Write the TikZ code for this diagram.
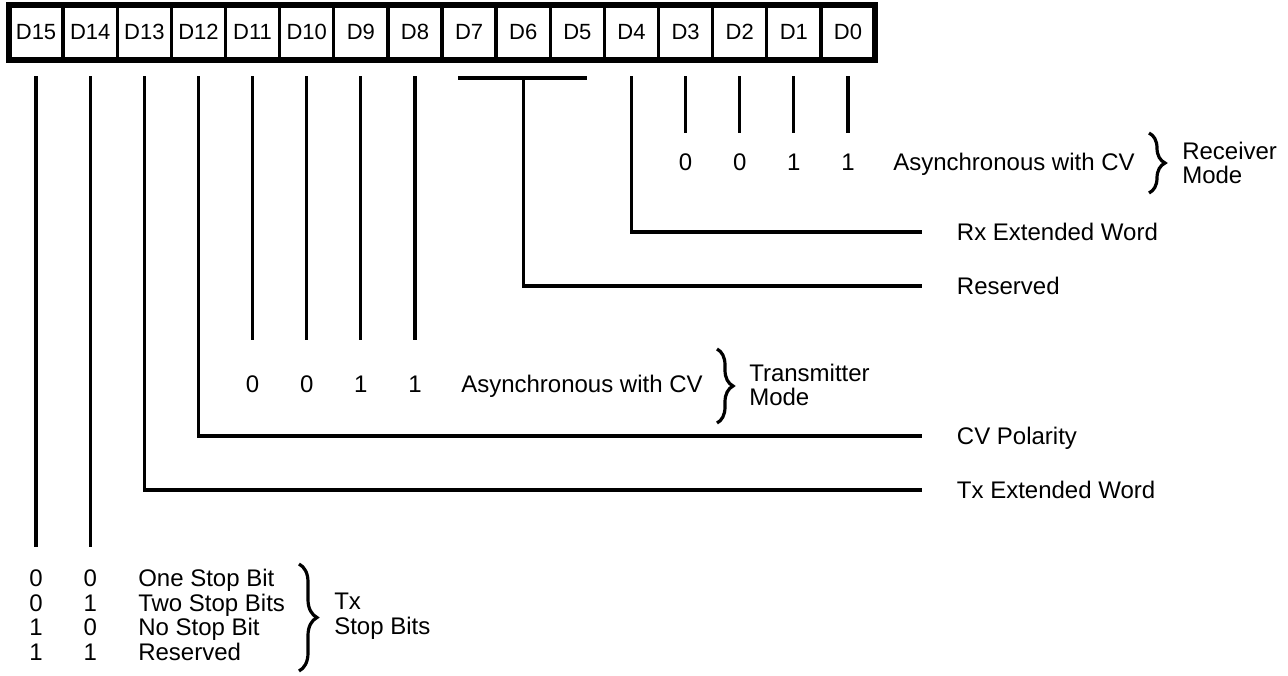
\documentclass[tikz,border=0pt]{standalone}
\usepackage{fontspec}
\setmainfont{Liberation Sans}
\usetikzlibrary{positioning,decorations.pathreplacing}
\tikzset{
  cell/.style={draw,line width=2.6pt,minimum width=40.6pt,minimum height=40.9pt,
    inner sep=0pt,outer sep=0pt,font=\fontsize{16.5}{18}\selectfont},
  wire/.style={line width=2.5pt},
  bit/.style={inner sep=0pt,text height=12.9pt,text depth=0pt,font=\fontsize{18}{20}\selectfont},
  lbl/.style={bit,anchor=west},
  lbltwo/.style={inner sep=0pt,anchor=west,align=left,font=\fontsize{18}{18.6}\selectfont},
  curly/.style={decorate,decoration={brace,amplitude=#1},line width=2.4pt},
  curly/.default=12pt
}
\newcommand{\tap}[4]{\coordinate (#2end) at (922,#3);
  \draw[wire] ([yshift=-12.4pt]#1.south) |- (#2end);
  \node[lbl,right=26pt of #2end] (#2) {#4};}

\begin{document}
\begin{tikzpicture}[x=0.75pt,y=-0.75pt]
  \useasboundingbox (0,0) rectangle (1288,675);
  \foreach \i in {0,...,15} \node[cell] (d\i) at ({9+54.125*(15.5-\i)},32.25) {D\i};
  \draw[line width=4.5pt] (d15.north west) rectangle (d0.south east); % register
  \foreach \i/\v in {3/0,2/0,1/1,0/1} {
    \node[bit] (r\i) at (d\i |- 0,162) {\v};
    \draw[wire] ([yshift=-12.4pt]d\i.south) -- ([yshift=15.3pt]r\i.north);
  }
  \node[lbl] (rxasy) at (893,162) {Asynchronous with CV};
  \draw[curly] (1149,133) -- (1149,193);
  \node[lbltwo] (rxmode) at (1182,163) {Receiver\\Mode};          % D3-D0
  \tap{d4}{rxword}{232}{Rx Extended Word}                          % D4
  \draw[wire] ([xshift=-8.3pt,yshift=-13.9pt]d7.south) -- ([xshift=7.5pt,yshift=-13.9pt]d5.south);
  \tap{d6}{resv}{286}{Reserved}                                    % D7-D5
  \foreach \i/\v in {11/0,10/0,9/1,8/1} {
    \node[bit] (t\i) at (d\i |- 0,384) {\v};
    \draw[wire] ([yshift=-12.4pt]d\i.south) -- ([yshift=26.5pt]t\i.north);
  }
  \node[lbl] (txasy) at (461,384) {Asynchronous with CV};
  \draw[curly] (717,349) -- (717,423);
  \node[lbltwo] (txmode) at (749,385) {Transmitter\\Mode};       % D11-D8
  \tap{d12}{cvpol}{436}{CV Polarity}                               % D12
  \tap{d13}{txword}{490}{Tx Extended Word}                         % D13
  \foreach \a/\b/\t [count=\n] in {0/0/One Stop Bit,0/1/Two Stop Bits,1/0/No Stop Bit,1/1/Reserved} {
    \pgfmathsetmacro\yy{553.5+24.5*\n}
    \node[bit] (sa\n) at (d15 |- 0,\yy) {\a};
    \node[bit] (sb\n) at (d14 |- 0,\yy) {\b};
    \node[lbl] (st\n) at (138,\yy) {\t};
  }
  \draw[wire] ([yshift=-12.4pt]d15.south) -- ([yshift=16.8pt]sa1.north);
  \draw[wire] ([yshift=-12.4pt]d14.south) -- ([yshift=16.8pt]sb1.north);
  \draw[curly=13.5pt] (299,564) -- (299,671);
  \node[lbltwo] (stop) at (334,616) {Tx\\Stop Bits};              % D15-D14
\end{tikzpicture}
\end{document}
